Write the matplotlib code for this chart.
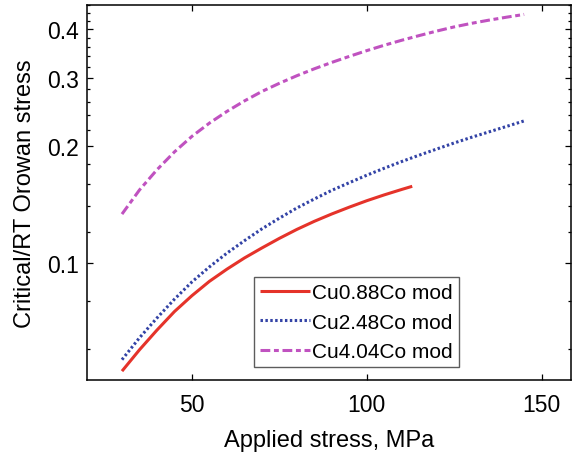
import matplotlib
matplotlib.use("Agg")
import matplotlib.pyplot as plt
from matplotlib.ticker import FixedLocator, FixedFormatter, MultipleLocator, NullFormatter

plt.rcParams['font.family'] = ['Liberation Sans', 'DejaVu Sans']

# Critical / room-temperature Orowan stress ratio vs applied stress (MPa)
x_088 = [30, 35, 40, 45, 50, 55, 60, 65, 70, 75, 80, 85, 90, 95, 100, 105, 110, 113]
y_088 = [0.0527, 0.0598, 0.0672, 0.0750, 0.0824, 0.0897, 0.0964, 0.1030, 0.1093,
         0.1157, 0.1220, 0.1280, 0.1337, 0.1392, 0.1446, 0.1497, 0.1546, 0.1575]

x_248 = [30, 35, 40, 45, 50, 55, 60, 65, 70, 75, 80, 85, 90, 95, 100, 105, 110,
         115, 120, 125, 130, 135, 140, 145]
y_248 = [0.0564, 0.0642, 0.0722, 0.0807, 0.0894, 0.0977, 0.1060, 0.1141, 0.1224,
         0.1304, 0.1385, 0.1461, 0.1538, 0.1609, 0.1682, 0.1753, 0.1824, 0.1894,
         0.1964, 0.2036, 0.2106, 0.2175, 0.2246, 0.2320]

x_404 = [30, 35, 40, 45, 50, 55, 60, 65, 70, 75, 80, 85, 90, 95, 100, 105, 110,
         115, 120, 125, 130, 135, 140, 145]
y_404 = [0.1336, 0.1541, 0.1737, 0.1931, 0.2117, 0.2290, 0.2454, 0.2611, 0.2762,
         0.2899, 0.3032, 0.3159, 0.3281, 0.3400, 0.3518, 0.3632, 0.3741, 0.3846,
         0.3950, 0.4049, 0.4136, 0.4215, 0.4289, 0.4359]

labels = ["Cu0.88Co mod", "Cu2.48Co mod", "Cu4.04Co mod"]
y_major = [0.1, 0.2, 0.3, 0.4]
x_major = [50, 100, 150]

fig = plt.figure(figsize=(5.77, 4.60), dpi=100)
ax = fig.add_axes([0.1508, 0.1717, 0.8388, 0.8153])

ax.plot(x_088, y_088, color="#e5332a", lw=2.2, solid_capstyle="butt", label=labels[0])
ax.plot(x_248, y_248, color="#3343a6", lw=2.2, linestyle=(0, (0.8, 0.8)), label=labels[1])
ax.plot(x_404, y_404, color="#c052c0", lw=2.2, linestyle=(0, (3.2, 1.2, 1.6, 1.2)), label=labels[2])

ax.set_yscale("log")
ax.set_xlim(20, 158.4)
ax.set_ylim(0.05, 0.461)

ax.yaxis.set_major_locator(FixedLocator(y_major))
ax.yaxis.set_major_formatter(FixedFormatter([str(v) for v in y_major]))
ax.yaxis.set_minor_locator(MultipleLocator(0.02))
ax.yaxis.set_minor_formatter(NullFormatter())
ax.xaxis.set_major_locator(FixedLocator(x_major))
ax.xaxis.set_minor_locator(FixedLocator([]))

ax.tick_params(which="both", direction="in", top=True, right=True, labelsize=16.5, width=0.9)
ax.tick_params(which="major", length=4)
ax.tick_params(which="minor", length=2.2)
ax.tick_params(axis="y", pad=6)
ax.tick_params(axis="x", pad=9)
for s in ax.spines.values():
    s.set_linewidth(1.1)

ax.set_xlabel("Applied stress, MPa", fontsize=17, labelpad=10)
ax.set_ylabel("Critical/RT Orowan stress", fontsize=17, labelpad=8)

leg = ax.legend(loc="upper left", bbox_to_anchor=(0.344, 0.275), fontsize=15,
                frameon=True, fancybox=False, edgecolor="#333333",
                handlelength=2.4, handletextpad=0.1, labelspacing=0.5,
                borderpad=0.3, borderaxespad=0)
leg.get_frame().set_linewidth(1.0)

fig.savefig("out.png", dpi=100)
